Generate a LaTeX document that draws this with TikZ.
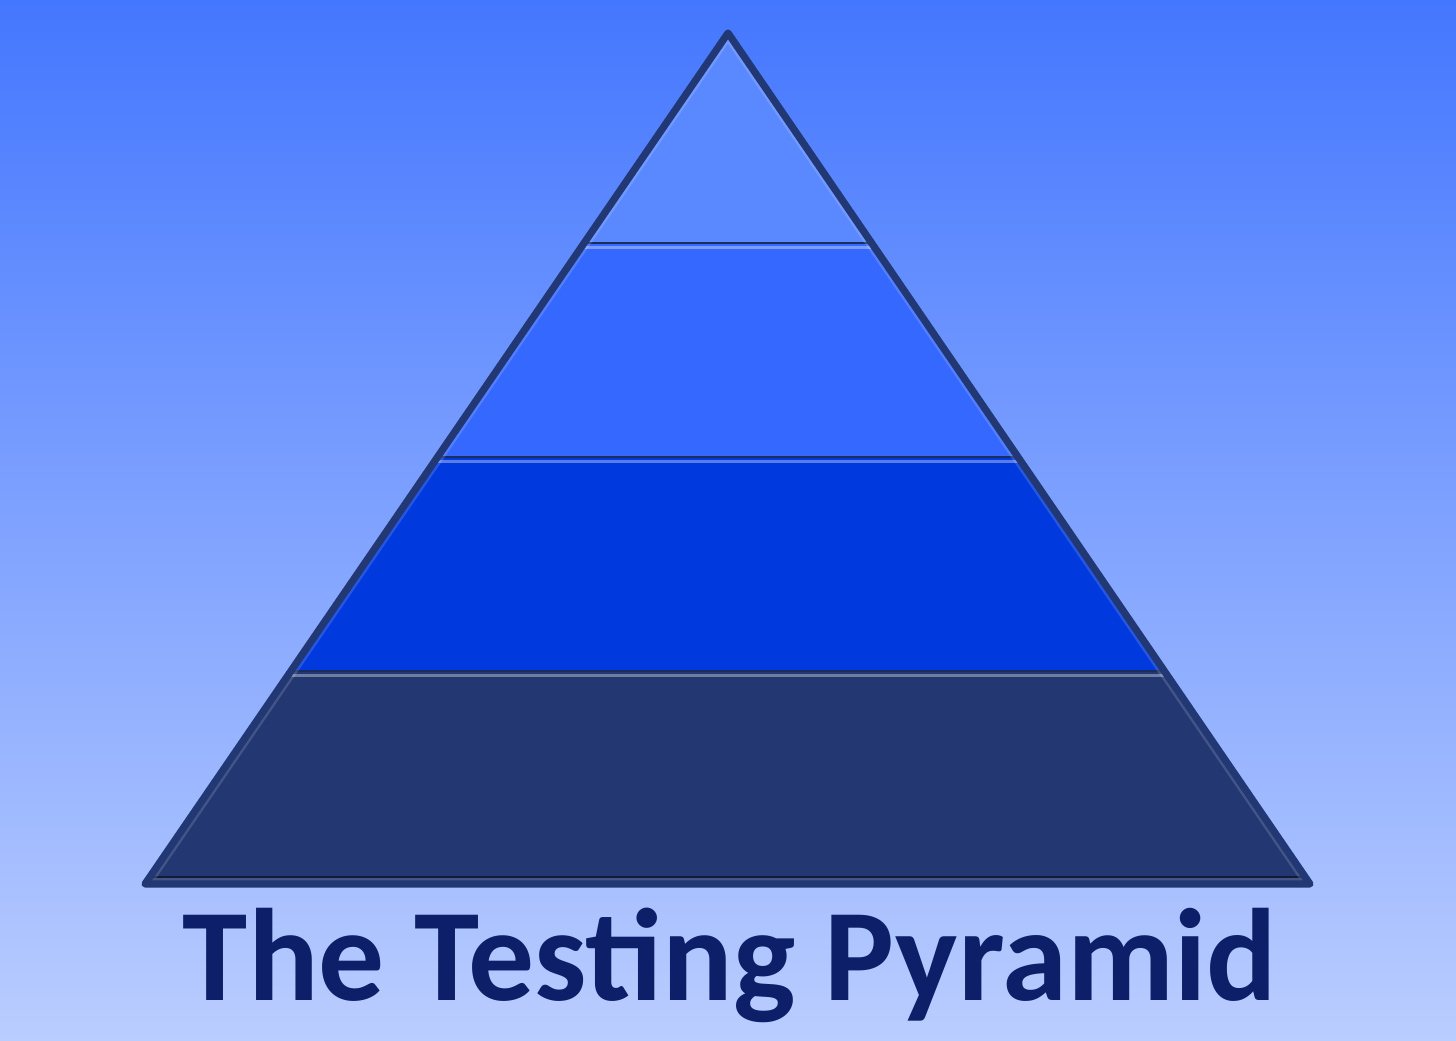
\documentclass[tikz,border=0pt]{standalone}
\usepackage{fontspec}
\setmainfont{Carlito}
\definecolor{bgtop}{HTML}{4477FF}
\definecolor{bgbot}{HTML}{BACDFF}
\definecolor{cone}{HTML}{5A88FF}
\definecolor{ctwo}{HTML}{3468FF}
\definecolor{cthree}{HTML}{003ADF}
\definecolor{cfour}{HTML}{233873}
\definecolor{edge}{HTML}{213874}
\definecolor{title}{HTML}{0D1F68}
\tikzset{
  sepdark/.style={draw=edge!80!black, line width=1.4pt},
  seplight/.style={draw=white, opacity=0.35, line width=1.2pt},
  outline/.style={draw=edge, line width=3.6pt, line join=round}
}
\begin{document}
\begin{tikzpicture}[x=0.5pt,y=-0.5pt]
\shade[top color=bgtop, bottom color=bgbot] (0,0) rectangle (1456,1040);
\useasboundingbox (0,0) rectangle (1456,1040);
\coordinate (A) at (728,33);
\coordinate (L) at (145,884);
\coordinate (R) at (1310,884);
\begin{scope}
  \clip (A)--(L)--(R)--cycle;
  \fill[cone] (0,0) rectangle (1456,244);
  \fill[ctwo] (0,244) rectangle (1456,458);
  \fill[cthree] (0,458) rectangle (1456,672);
  \fill[cfour] (0,672) rectangle (1456,890);
  \draw[sepdark] (0,243) -- (1456,243);
  \draw[seplight] (0,247.5) -- (1456,247.5);
  \draw[sepdark] (0,457) -- (1456,457);
  \draw[seplight] (0,461.5) -- (1456,461.5);
  \draw[sepdark] (0,671) -- (1456,671);
  \draw[seplight] (0,675.5) -- (1456,675.5);
  \draw[black, opacity=0.5, line width=1pt] (0,877) -- (1456,877);
  \draw[white, opacity=0.15, line width=6pt] (A)--(L)--(R)--cycle;
\end{scope}
\draw[outline] (A)--(L)--(R)--cycle;
\node[anchor=base, inner sep=0pt, text=title] (t) at (730,1000)
  {\resizebox{547pt}{!}{\bfseries The Testing Pyramid}};
\end{tikzpicture}
\end{document}
